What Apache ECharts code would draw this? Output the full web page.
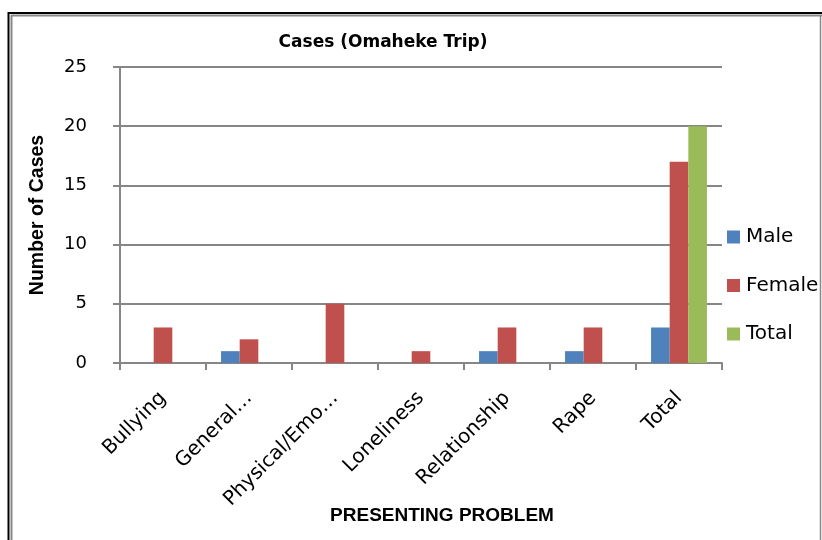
<!DOCTYPE html>
<html>
<head>
<meta charset="utf-8">
<script src="https://cdn.jsdelivr.net/npm/echarts@6/dist/echarts.min.js"></script>
<style>
  html, body { margin: 0; padding: 0; background: #fff; }
  #chart { width: 822px; height: 540px; }
</style>
</head>
<body>
<div id="chart"></div>
<script>
// Presenting problems recorded during the Omaheke trip
const categories = ['Bullying', 'General…', 'Physical/Emo…', 'Loneliness', 'Relationship', 'Rape', 'Total'];
const maleCases = [0, 1, 0, 0, 1, 1, 3];
const femaleCases = [3, 2, 5, 1, 3, 3, 17];
const totalCases = [0, 0, 0, 0, 0, 0, 20];
const yTicks = [0, 5, 10, 15, 20, 25];

const FONT = '"DejaVu Sans", "Liberation Sans", sans-serif';
const NAME_FONT = '"Liberation Sans", Arial, sans-serif';
const GRID_GRAY = '#868686';

const chart = echarts.init(document.getElementById('chart'), null, { renderer: 'canvas' });

const barSeries = (name, data, color) => ({
  name: name,
  type: 'bar',
  data: data,
  barGap: '0%',
  barCategoryGap: '35%',
  itemStyle: { color: color },
  emphasis: { disabled: true }
});

chart.setOption({
  animation: false,
  backgroundColor: '#ffffff',
  textStyle: { fontFamily: FONT },
  title: {
    text: 'Cases (Omaheke Trip)',
    left: 378,
    top: 29,
    textAlign: 'center',
    textStyle: { fontFamily: FONT, fontSize: 17, fontWeight: 'bold', color: '#000' }
  },
  legend: {
    orient: 'vertical',
    left: 722,
    top: 222,
    itemWidth: 13,
    itemHeight: 13,
    itemGap: 28.5,
    icon: 'rect',
    textStyle: { fontFamily: FONT, fontSize: 20, color: '#000', padding: [0, 0, 0, 1] },
    data: ['Male', 'Female', 'Total']
  },
  grid: { left: 120, right: 100, top: 67, bottom: 177, containLabel: false },
  xAxis: {
    type: 'category',
    data: categories,
    name: 'PRESENTING PROBLEM',
    nameLocation: 'middle',
    nameGap: 143,
    nameMoveOverlap: false,
    nameTextStyle: { fontFamily: NAME_FONT, fontSize: 19, fontWeight: 'bold', color: '#000', padding: [0, 0, 0, 42] },
    axisLine: { lineStyle: { color: GRID_GRAY, width: 2 } },
    axisTick: { show: true, length: 7, lineStyle: { color: GRID_GRAY, width: 2 } },
    axisLabel: { rotate: 45, fontFamily: FONT, fontSize: 20, color: '#000', margin: 32, interval: 0 }
  },
  yAxis: {
    type: 'value',
    min: yTicks[0],
    max: yTicks[yTicks.length - 1],
    interval: 5,
    name: 'Number of Cases',
    nameLocation: 'middle',
    nameGap: 72,
    nameMoveOverlap: false,
    nameTextStyle: { fontFamily: NAME_FONT, fontSize: 19.5, fontWeight: 'bold', color: '#000' },
    axisLine: { show: true, lineStyle: { color: GRID_GRAY, width: 2 } },
    axisTick: { show: true, length: 7, lineStyle: { color: GRID_GRAY, width: 2 } },
    axisLabel: { fontFamily: FONT, fontSize: 18, color: '#000', margin: 33 },
    splitLine: { lineStyle: { color: GRID_GRAY, width: 2 } }
  },
  series: [
    barSeries('Male', maleCases, '#4F81BD'),
    barSeries('Female', femaleCases, '#C0504D'),
    barSeries('Total', totalCases, '#9BBB59')
  ],
  graphic: [
    // outer frame of the chart area
    { type: 'line', shape: { x1: 8.5, y1: 12, x2: 8.5, y2: 540 }, style: { stroke: '#000', lineWidth: 2 } },
    { type: 'line', shape: { x1: 8, y1: 13, x2: 822, y2: 13 }, style: { stroke: '#000', lineWidth: 2 } },
    { type: 'line', shape: { x1: 11.5, y1: 15, x2: 11.5, y2: 540 }, style: { stroke: '#888', lineWidth: 2 } },
    { type: 'line', shape: { x1: 11, y1: 15.5, x2: 822, y2: 15.5 }, style: { stroke: '#888', lineWidth: 2 } },
    { type: 'line', shape: { x1: 820.5, y1: 15, x2: 820.5, y2: 540 }, style: { stroke: '#888', lineWidth: 1.5 } }
  ]
});
</script>
</body>
</html>
